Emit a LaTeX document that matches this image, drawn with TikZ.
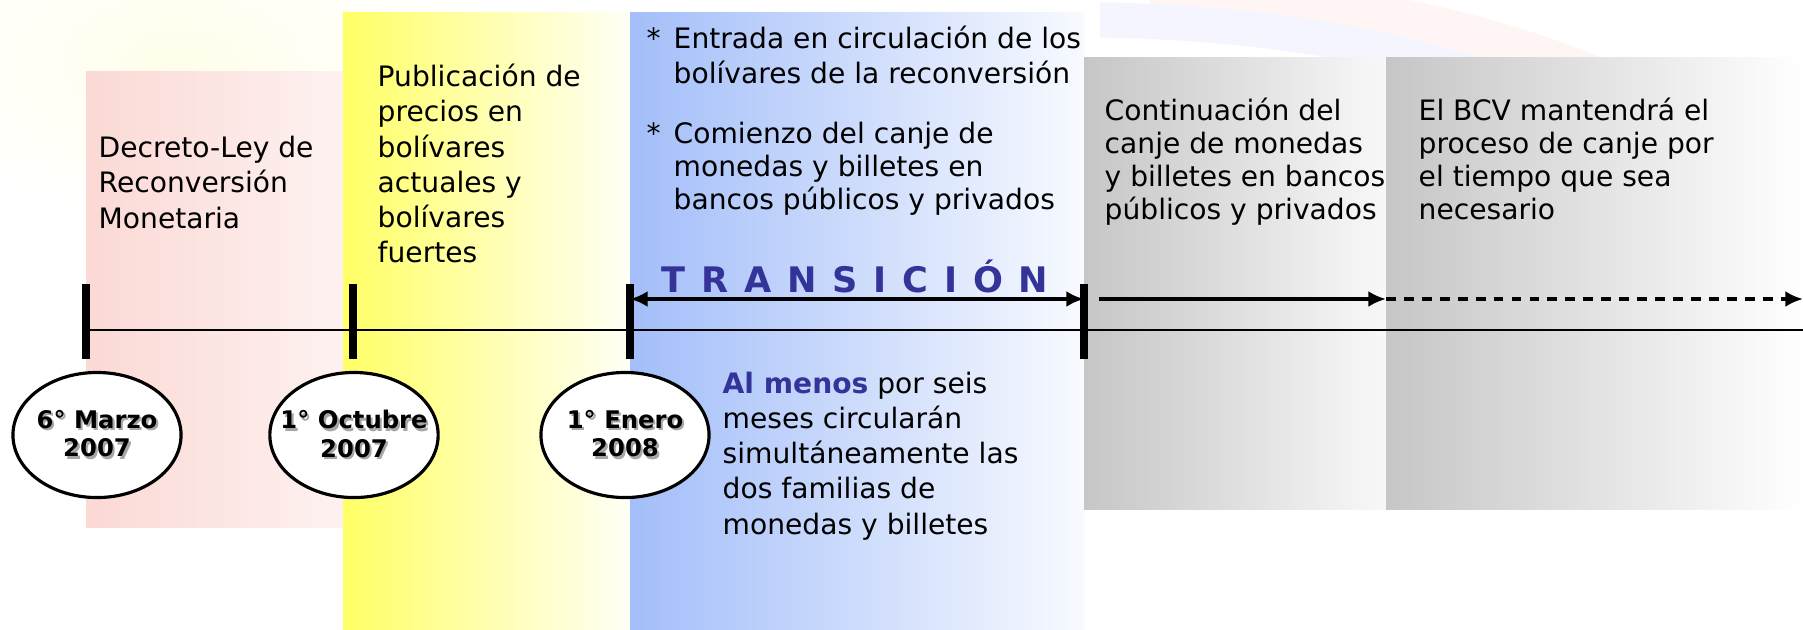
\documentclass[tikz,border=0pt]{standalone}
\usepackage{fontspec}
\setmainfont{DejaVu Sans}
\usetikzlibrary{positioning,shapes.geometric,arrows.meta}
\definecolor{pinkband}{HTML}{FBD9D5}
\definecolor{yellowband}{HTML}{FFFF66}
\definecolor{blueband}{HTML}{A3BEF9}
\definecolor{grayband}{HTML}{C6C6C6}
\definecolor{transblue}{HTML}{333399}
\newcommand{\shd}[1]{\makebox[0pt][l]{\hspace{0.6pt}\raisebox{-0.6pt}{\textcolor{black!35}{#1}}}#1}
\newcommand{\gp}{\hspace{0.45em}}
\begin{document}
\begin{tikzpicture}[
  x=0.01cm, y=-0.01cm,
  note/.style={anchor=base west, inner sep=0pt, align=left, font=\fontsize{8}{10}\selectfont},
  graynote/.style={note, font=\fontsize{8}{9.3}\selectfont},
  datebox/.style={ellipse, draw, line width=0.9pt, fill=white, minimum width=1.68cm, minimum height=1.25cm, inner xsep=-4pt, inner ysep=0pt, align=center, font=\fontsize{6.9}{8}\selectfont\bfseries},
  tickmark/.style={rectangle, fill=black, inner sep=0pt, minimum width=2pt, minimum height=0.75cm},
  axis/.style={line width=0.7pt},
  spanarrow/.style={line width=0.95pt, {Latex[length=5pt,width=4.5pt]}-{Latex[length=5pt,width=4.5pt]}},
  goarrow/.style={line width=0.95pt, -{Latex[length=5pt,width=4.5pt]}}
]
\useasboundingbox (0,0) rectangle (1803,629);
\fill[white] (0,0) rectangle (1803,629);

% faint backdrop
\shade[inner color=orange!8!yellow!8, outer color=white] (180,60) ellipse (300 and 160);
\draw[line width=16pt, red!4] (1150,0) .. controls (1500,10) and (1740,120) .. (1803,260);
\draw[line width=10pt, blue!4] (1100,20) .. controls (1480,25) and (1720,150) .. (1803,330);

% bands
\fill[left color=pinkband, middle color=pinkband!95!white, right color=pinkband!35!white] (86,71) rectangle (343,527);
\fill[left color=yellowband, middle color=yellowband!45!white, right color=yellowband!5!white] (343,12) rectangle (630,629);
\fill[left color=blueband, middle color=blueband!65!white, right color=blueband!8!white] (630,12) rectangle (1084,629);
\fill[left color=grayband, right color=grayband!12!white] (1084,57) rectangle (1386,509);
\fill[left color=grayband, middle color=grayband!45!white, right color=white] (1386,57) rectangle (1803,509);

% timeline
\node[tickmark] (t1) at (86,321.5) {};
\node[tickmark] (t2) at (353,321.5) {};
\node[tickmark] (t3) at (630,321.5) {};
\node[tickmark] (t4) at (1084,321.5) {};
\coordinate (tend) at (1803,330);
\draw[axis] (t1.center |- tend) -- (tend);

\coordinate (s3) at (630,299);
\coordinate (s4) at (1084,299);
\coordinate (c1) at (1099,299);
\coordinate (c2) at (1386,299);
\coordinate (c3) at (1803,299);
\draw[spanarrow] (s3) -- (s4);
\draw[goarrow] (c1) -- (c2);
\draw[goarrow, dash pattern=on 2.8pt off 2.3pt] (c2) -- (c3);

\node[anchor=base, inner sep=0pt, text=transblue, font=\fontsize{10}{12}\selectfont\bfseries] (trans) at (855,292) {T\gp R\gp A\gp N\gp S\gp I\gp C\gp I\gp Ó\gp N};

% dates
\node[datebox] (d1) at (97,435) {\shd{6° Marzo}\\\shd{2007}};
\node[datebox] (d2) at (354,435) {\shd{1° Octubre}\\\shd{2007}};
\node[datebox] (d3) at (625,435) {\shd{1° Enero}\\\shd{2008}};

% texts (anchored at the baseline of the last line)
\node[note] (decreto) at (98,228) {Decreto-Ley de\\Reconversión\\Monetaria};
\node[note] (publica) at (377,262.5) {Publicación de\\precios en\\bolívares\\actuales y\\bolívares\\fuertes};
\node[note] (entrada) at (646,83.5) {\makebox[0.27cm][l]{*}Entrada en circulación de los\\\hspace*{0.27cm}bolívares de la reconversión};
\node[graynote] (comienzo) at (646,209) {\makebox[0.27cm][l]{*}Comienzo del canje de\\\hspace*{0.27cm}monedas y billetes en\\\hspace*{0.27cm}bancos públicos y privados};
\node[note] (almenos) at (722,534) {\textbf{\textcolor{transblue}{Al menos}} por seis\\meses circularán\\simultáneamente las\\dos familias de\\monedas y billetes};
\node[graynote] (contin) at (1104,219) {Continuación del\\canje de monedas\\y billetes en bancos\\públicos y privados};
\node[graynote] (bcv) at (1418,219) {El BCV mantendrá el\\proceso de canje por\\el tiempo que sea\\necesario};
\end{tikzpicture}
\end{document}
